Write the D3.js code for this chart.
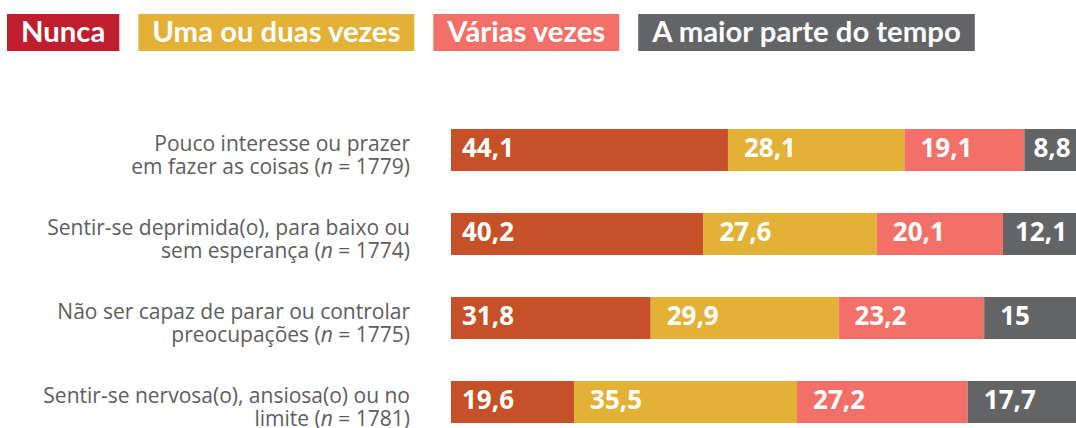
<!DOCTYPE html>
<html>
<head>
<meta charset="utf-8">
<script src="https://cdn.jsdelivr.net/npm/d3@7"></script>
<style>
    html, body { margin: 0; padding: 0; background: #fff; }
    svg { display: block; }
</style>
</head>
<body>
<svg class="chart"></svg>
<script>
    let series = ['Nunca', 'Uma ou duas vezes', 'Várias vezes', 'A maior parte do tempo'];
    let legendColors = ['#be1e2d', '#e2b136', '#f27068', '#636466'];
    let barColors = ['#c65027', '#e2b136', '#f27068', '#636466'];

    let questions = [
        ['Pouco interesse ou prazer', 'em fazer as coisas', '1779'],
        ['Sentir-se deprimida(o), para baixo ou', 'sem esperança', '1774'],
        ['Não ser capaz de parar ou controlar', 'preocupações', '1775'],
        ['Sentir-se nervosa(o), ansiosa(o) ou no', 'limite', '1781']
    ];

    let nunca = [44.1, 40.2, 31.8, 19.6];
    let umaOuDuas = [28.1, 27.6, 29.9, 35.5];
    let varias = [19.1, 20.1, 23.2, 27.2];
    let maiorParte = [8.8, 12.1, 15, 17.7];

    let width = 1076,
        height = 428;

    let svg = d3.select('.chart')
        .attr('width', width)
        .attr('height', height)
        .style('font-family', '"Open Sans", sans-serif');

    drawLegend();
    drawBars();

    function drawLegend() {
        let legend = svg.append('g').attr('class', 'legend');
        let x = 7;

        series.forEach((name, i) => {
            let g = legend.append('g');
            let rect = g.append('rect')
                .attr('y', 14)
                .attr('height', 37)
                .attr('fill', legendColors[i]);
            let text = g.append('text')
                .attr('y', 42)
                .attr('fill', '#fff')
                .style('font-family', 'Lato, sans-serif')
                .style('font-weight', 700)
                .style('font-size', '29.3px')
                .text(name);
            let w = text.node().getComputedTextLength();
            rect.attr('x', x).attr('width', w + 28);
            text.attr('x', x + 14);
            x += w + 28 + 19;
        });
    }

    function drawBars() {
        let rows = questions.map((q, i) => {
            return {
                label: q,
                values: [nunca[i], umaOuDuas[i], varias[i], maiorParte[i]]
            };
        });

        let xScale = d3.scaleLinear()
            .domain([0, 100])
            .range([451, 1079]);

        let yScale = d3.scaleBand()
            .domain(d3.range(rows.length))
            .range([108, 444])
            .paddingInner(0.5)
            .paddingOuter(0.25);

        let stack = d3.stack()
            .keys(d3.range(series.length))
            .value((d, k) => d.values[k]);

        let layers = stack(rows);

        let groups = svg.append('g')
            .selectAll('g')
            .data(layers)
            .enter()
            .append('g')
            .attr('fill', (d, i) => barColors[i]);

        groups.selectAll('rect')
            .data(d => d)
            .enter()
            .append('rect')
            .attr('x', d => xScale(d[0]))
            .attr('width', d => xScale(d[1]) - xScale(d[0]))
            .attr('y', (d, i) => yScale(i))
            .attr('height', yScale.bandwidth());

        groups.each(function (layer, k) {
            d3.select(this)
                .selectAll('text')
                .data(layer)
                .enter()
                .append('text')
                .attr('y', (d, i) => yScale(i) + yScale.bandwidth() / 2 + 7)
                .attr('fill', '#fff')
                .style('font-weight', 700)
                .style('font-size', '26px')
                .text(d => String(d.data.values[k]).replace('.', ','))
                .attr('x', function (d) {
                    let x0 = xScale(d[0]);
                    if (k === 0) {
                        return x0 + 11;
                    }
                    let segW = xScale(d[1]) - x0;
                    let textW = this.getComputedTextLength();
                    return x0 + Math.min(16, (segW - textW) / 2);
                });
        });

        let labels = svg.append('g')
            .attr('text-anchor', 'end')
            .attr('fill', '#5d5d5d')
            .style('font-size', '21px')
            .selectAll('g')
            .data(rows)
            .enter()
            .append('g');

        labels.append('text')
            .attr('x', 410)
            .attr('y', (d, i) => yScale(i) + yScale.bandwidth() / 2 + 0.5)
            .text(d => d.label[0]);

        let second = labels.append('text')
            .attr('x', 410)
            .attr('y', (d, i) => yScale(i) + yScale.bandwidth() / 2 + 23.5);

        second.append('tspan')
            .text(d => d.label[1] + ' (');

        second.append('tspan')
            .style('font-style', 'italic')
            .text('n');

        second.append('tspan')
            .text(d => ' = ' + d.label[2] + ')');
    }
</script>
</body>
</html>
